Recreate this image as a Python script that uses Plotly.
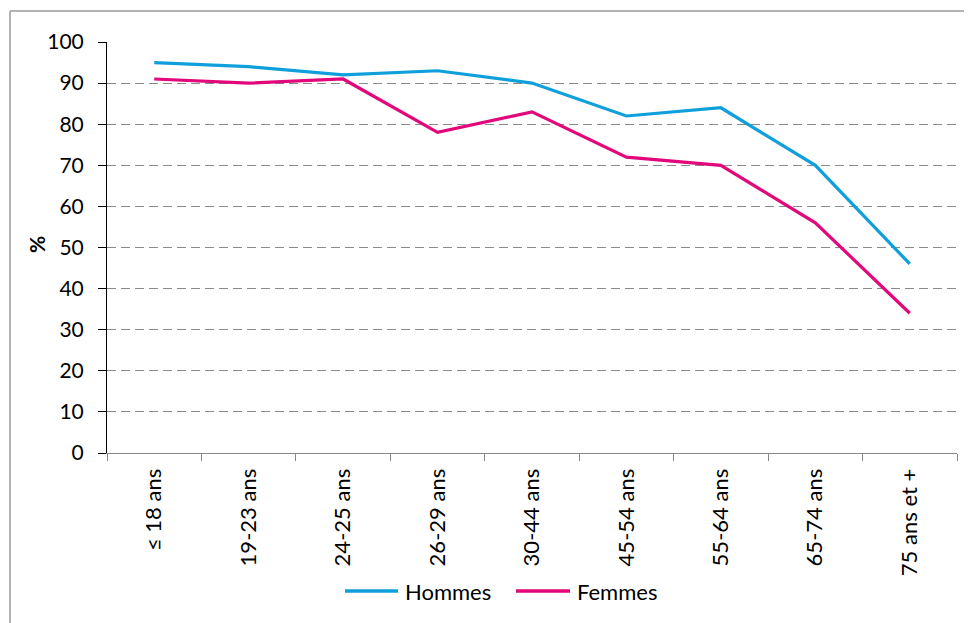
import plotly.graph_objects as go

categories = ["≤ 18 ans", "19-23 ans", "24-25 ans", "26-29 ans", "30-44 ans",
              "45-54 ans", "55-64 ans", "65-74 ans", "75 ans et +"]
hommes = [95, 94, 92, 93, 90, 82, 84, 70, 46]
femmes = [91, 90, 91, 78, 83, 72, 70, 56, 34]
y_ticks = [0, 10, 20, 30, 40, 50, 60, 70, 80, 90, 100]
series_names = ["Hommes", "Femmes"]
series_colors = ["#0FA0DC", "#E2077B"]

FONT = "Lato"
OFF = 8  # page body margin
fig = go.Figure()
for name, vals, col in zip(series_names, [hommes, femmes], series_colors):
    fig.add_trace(go.Scatter(x=categories, y=vals, mode="lines", name=name,
                             line=dict(color=col, width=3.2), showlegend=False))

W, H = 972 - OFF, 623 - OFF
L, T = 107 - OFF, 42 - OFF
R = W - (957 - OFF)
B = H - (453 - OFF)
pw, ph = W - L - R, H - T - B


def px_x(x):
    return (x - OFF - L) / pw


def px_y(y):
    return (T + ph - (y - OFF)) / ph


# manual legend (line sample + label), positions in screen pixels
legend_line_x = [(345, 398), (516, 570)]
legend_text_x = [403, 575]
LEG_Y = 591

shapes = [
    dict(type="line", xref="paper", yref="paper",
         x0=px_x(10), x1=px_x(990), y0=px_y(11), y1=px_y(11),
         line=dict(color="#9a9a9a", width=1.5)),
    dict(type="line", xref="paper", yref="paper",
         x0=px_x(10), x1=px_x(10), y0=px_y(11), y1=px_y(640),
         line=dict(color="#9a9a9a", width=1.5)),
]
annotations = [dict(text="<b>%</b>", xref="paper", yref="paper",
                    x=px_x(37), y=px_y(245),
                    xanchor="center", yanchor="middle", textangle=-90,
                    showarrow=False, font=dict(size=21))]
for (x0, x1), tx, name, col in zip(legend_line_x, legend_text_x, series_names, series_colors):
    shapes.append(dict(type="line", xref="paper", yref="paper",
                       x0=px_x(x0), x1=px_x(x1), y0=px_y(LEG_Y), y1=px_y(LEG_Y),
                       line=dict(color=col, width=3.5)))
    annotations.append(dict(text=name, xref="paper", yref="paper",
                            x=px_x(tx), y=px_y(LEG_Y), xanchor="left", yanchor="middle",
                            showarrow=False, font=dict(size=22)))

fig.update_layout(
    width=W, height=H,
    margin=dict(l=L, r=R, t=T, b=B),
    paper_bgcolor="white", plot_bgcolor="white",
    font=dict(family=FONT, size=22, color="black"),
    showlegend=False,
    xaxis=dict(type="category", range=[-0.5, 8.5], tickangle=-90,
               showline=True, linecolor="#888888", linewidth=1,
               ticks="outside", ticklen=7, tickcolor="#888888",
               tickson="boundaries", showgrid=False, zeroline=False,
               ticklabelstandoff=6, tickfont=dict(size=22)),
    yaxis=dict(range=[0, 100], tickvals=y_ticks,
               showline=True, linecolor="black", linewidth=1,
               ticks="outside", ticklen=8, tickcolor="black",
               showgrid=True, gridcolor="#8a8a8a", griddash="9px,5px", gridwidth=1,
               zeroline=False, ticklabelstandoff=10, tickfont=dict(size=21)),
    annotations=annotations,
    shapes=shapes,
)

fig.write_html("out.html")
